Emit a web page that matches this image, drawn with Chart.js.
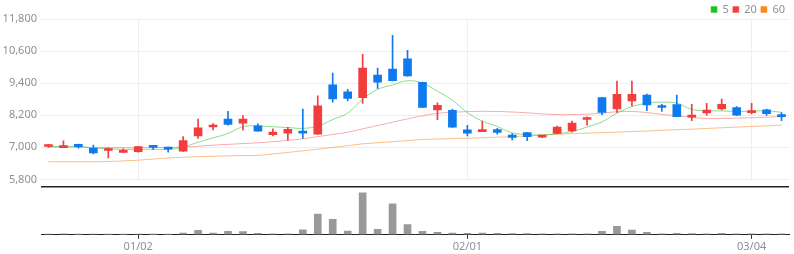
<html>

<head>
    <title>Price chart</title>
    <script src="https://cdn.jsdelivr.net/npm/chart.js@4.4.1/dist/chart.umd.min.js"></script>
    <style>
        body { margin: 0; background: #fff; }
        #wrap { position: relative; width: 794px; height: 254px; }
        #priceCanvas { position: absolute; left: 0; top: 0; }
        #volumeCanvas { position: absolute; left: 0; top: 182px; }
    </style>
</head>

<body>
    <div id="wrap">
        <canvas id="priceCanvas" width="794" height="190"></canvas>
        <canvas id="volumeCanvas" width="794" height="72"></canvas>
    </div>
    <script>
        // ========= Data =============================

        const dates = [
            '12/20', '12/21', '12/22', '12/26', '12/27', '12/28', '01/02', '01/03', '01/04', '01/05',
            '01/08', '01/09', '01/10', '01/11', '01/12', '01/15', '01/16', '01/17', '01/18', '01/19',
            '01/22', '01/23', '01/24', '01/25', '01/26', '01/29', '01/30', '01/31', '02/01', '02/02',
            '02/05', '02/06', '02/07', '02/08', '02/13', '02/14', '02/15', '02/16', '02/19', '02/20',
            '02/21', '02/22', '02/23', '02/26', '02/27', '02/28', '02/29', '03/04', '03/05', '03/06',
        ]
        const tickDates = ['01/02', '02/01', '03/04']

        const open = [
            7030, 6990, 7110, 6960, 6880, 6810, 6840, 7040, 7010, 6860,
            7430, 7760, 8060, 7900, 7800, 7470, 7530, 7610, 7490, 9340,
            9080, 8860, 9700, 9930, 10310, 9430, 8400, 8380, 7650, 7590,
            7660, 7460, 7550, 7380, 7520, 7610, 8040, 8860, 8440, 8740,
            8950, 8520, 8600, 8130, 8290, 8440, 8490, 8300, 8400, 8190,
        ]
        const high = [
            7110, 7240, 7120, 7080, 6980, 6940, 7040, 7040, 7010, 7400,
            8060, 7890, 8350, 8190, 7880, 7690, 7750, 8430, 8930, 9780,
            9170, 10480, 9960, 11190, 10630, 9440, 8660, 8430, 7820, 7980,
            7710, 7510, 7560, 7450, 7790, 7980, 8140, 8870, 9480, 9480,
            8990, 8610, 8950, 8610, 8650, 8800, 8520, 8650, 8430, 8300,
        ]
        const low = [
            7000, 6990, 6970, 6750, 6600, 6800, 6820, 6920, 6820, 6850,
            7330, 7650, 7830, 7640, 7600, 7430, 7270, 7330, 7480, 8690,
            8740, 8640, 9200, 9480, 9660, 8480, 8030, 7740, 7430, 7590,
            7490, 7280, 7250, 7360, 7500, 7570, 7830, 8220, 8310, 8550,
            8370, 8340, 8150, 8000, 8200, 8400, 8180, 8250, 8190, 8000,
        ]
        const close = [
            7070, 7010, 7020, 6790, 6910, 6870, 7030, 7000, 6930, 7250,
            7730, 7830, 7860, 8060, 7600, 7570, 7670, 7530, 8550, 8810,
            8830, 9960, 9440, 9490, 9670, 8490, 8570, 7750, 7530, 7620,
            7560, 7370, 7400, 7420, 7760, 7910, 8100, 8310, 8980, 8980,
            8590, 8490, 8150, 8200, 8390, 8610, 8200, 8360, 8260, 8150,
        ]

        const ma5 = [
            7035, 7035, 7035, 6980, 6945, 6925, 6925, 6925, 6925, 7010,
            7190, 7350, 7520, 7770, 7800, 7770, 7740, 7710, 7790, 8040,
            8280, 8800, 9170, 9330, 9490, 9400, 9100, 8760, 8300, 7980,
            7780, 7540, 7480, 7460, 7510, 7590, 7760, 7950, 8280, 8520,
            8650, 8690, 8650, 8420, 8370, 8360, 8340, 8350, 8365, 8310,
        ]
        const ma20 = [
            7010, 7005, 7000, 6995, 6990, 6985, 6985, 6990, 6995, 7010,
            7040, 7080, 7110, 7140, 7170, 7210, 7260, 7320, 7400, 7480,
            7565, 7690, 7815, 7940, 8065, 8180, 8270, 8310, 8335, 8345,
            8340, 8320, 8290, 8250, 8225, 8225, 8240, 8280, 8330, 8340,
            8300, 8230, 8180, 8120, 8080, 8080, 8090, 8110, 8130, 8150,
        ]
        const ma60 = [
            6460, 6460, 6460, 6460, 6470, 6490, 6520, 6560, 6600, 6630,
            6650, 6665, 6680, 6690, 6700, 6750, 6810, 6870, 6930, 6995,
            7060, 7130, 7170, 7210, 7250, 7295, 7310, 7325, 7340, 7360,
            7380, 7400, 7425, 7460, 7490, 7510, 7530, 7550, 7570, 7590,
            7610, 7635, 7660, 7680, 7705, 7730, 7755, 7780, 7805, 7830,
        ]

        const volume = [
            30000, 60000, 20000, 30000, 28000, 22000, 31000, 25000, 26000, 100000,
            260000, 100000, 200000, 195000, 80000, 62000, 58000, 300000, 1220000, 920000,
            220000, 2480000, 320000, 1820000, 600000, 200000, 140000, 100000, 80000, 100000,
            80000, 78000, 70000, 60000, 62000, 60000, 64000, 200000, 500000, 280000,
            140000, 60000, 80000, 78000, 62000, 80000, 60000, 58000, 60000, 58000,
        ]

        // ========= Styles ==========

        const RED = '#f23d3d'
        const BLUE = '#0f7aed'
        const GRID = '#eceef1'
        const VOL_MAX = 2820000
        const AXIS_WIDTH = 41

        Chart.defaults.font.family = "'Noto Sans', sans-serif"
        Chart.defaults.font.size = 11
        Chart.defaults.color = '#8b9099'

        const candleColors = open.map((o, i) => (close[i] >= o ? RED : BLUE))
        const isTickDate = i => tickDates.includes(dates[i])
        const fixWidth = scale => { scale.width = AXIS_WIDTH }

        // legend sits in the strip above the top gridline
        const legendFit = {
            id: 'legendFit',
            beforeInit(chart) {
                const fit = chart.legend.fit
                chart.legend.fit = function () {
                    fit.call(this)
                    this.height = 19
                }
            },
        }

        function maLine(label, data, color, lineColor) {
            return {
                type: 'line',
                label,
                data,
                borderColor: lineColor,
                backgroundColor: color,
                borderWidth: 1,
                pointRadius: 0,
                tension: 0.4,
                order: 1,
            }
        }

        // =========== Price pane ===========

        new Chart(document.getElementById('priceCanvas'), {
            type: 'bar',
            data: {
                labels: dates,
                datasets: [
                    {
                        label: 'wick',
                        data: low.map((l, i) => [l, high[i]]),
                        backgroundColor: candleColors,
                        barThickness: 1,
                        grouped: false,
                        order: 0,
                    },
                    {
                        label: 'body',
                        data: open.map((o, i) => [o, close[i]]),
                        backgroundColor: candleColors,
                        barThickness: 8,
                        minBarLength: 2,
                        grouped: false,
                        order: 0,
                    },
                    maLine('5', ma5, '#1ec21e', 'rgba(60,200,60,0.6)'),
                    maLine('20', ma20, '#f53d3d', 'rgba(240,70,70,0.45)'),
                    maLine('60', ma60, '#f88b1f', 'rgba(245,140,40,0.55)'),
                ],
            },
            options: {
                responsive: false,
                animation: false,
                layout: { padding: { top: 0, right: 5, bottom: 8, left: 0 } },
                plugins: {
                    legend: {
                        align: 'end',
                        labels: {
                            boxWidth: 6,
                            boxHeight: 6,
                            padding: 4,
                            filter: item => ['5', '20', '60'].includes(item.text),
                        },
                    },
                    tooltip: { enabled: false },
                },
                scales: {
                    x: {
                        grid: {
                            offset: false,
                            drawTicks: false,
                            color: c => (isTickDate(c.index) ? GRID : 'transparent'),
                        },
                        ticks: { display: false },
                        border: { display: false },
                    },
                    y: {
                        min: 5800,
                        max: 11800,
                        afterFit: fixWidth,
                        ticks: {
                            stepSize: 1200,
                            padding: 4,
                            callback: v => v.toLocaleString('en-US'),
                        },
                        grid: { color: GRID, drawTicks: false },
                        border: { display: false },
                    },
                },
            },
            plugins: [legendFit],
        })

        // =========== Volume pane ===========

        new Chart(document.getElementById('volumeCanvas'), {
            type: 'bar',
            data: {
                labels: dates,
                datasets: [
                    {
                        label: 'volume',
                        data: volume,
                        backgroundColor: '#999999',
                        barThickness: 7,
                    },
                ],
            },
            options: {
                responsive: false,
                animation: false,
                layout: { padding: { top: 5, right: 5, bottom: 0, left: 0 } },
                plugins: {
                    legend: { display: false },
                    tooltip: { enabled: false },
                },
                scales: {
                    x: {
                        grid: {
                            offset: false,
                            drawOnChartArea: false,
                            tickLength: 4,
                            color: c => (isTickDate(c.index) ? '#333333' : 'transparent'),
                        },
                        border: { color: '#222222' },
                        ticks: {
                            autoSkip: false,
                            maxRotation: 0,
                            padding: 1,
                            callback: (v, i) => (isTickDate(i) ? dates[i] : ''),
                        },
                    },
                    y: {
                        min: 0,
                        max: VOL_MAX,
                        afterFit: fixWidth,
                        afterBuildTicks: s => {
                            s.ticks = [{ value: 0 }, { value: VOL_MAX }]
                        },
                        ticks: { display: false },
                        grid: {
                            drawTicks: false,
                            lineWidth: 1.5,
                            color: c => (c.tick.value === VOL_MAX ? '#222222' : 'transparent'),
                        },
                        border: { display: false },
                    },
                },
            },
        })
    </script>
</body>

</html>
